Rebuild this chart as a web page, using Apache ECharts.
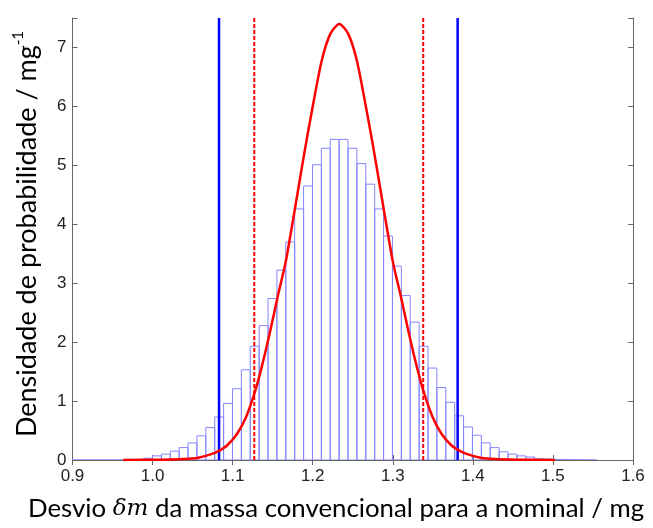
<!DOCTYPE html>
<html><head><meta charset="utf-8">
<script src="https://cdn.jsdelivr.net/npm/echarts@6/dist/echarts.min.js"></script>
<style>html,body{margin:0;padding:0;background:#fff}#c{width:653px;height:528px}</style>
</head><body><div id="c"></div>
<script>
// Histogram bins (start, width) and densities
const binStart = 0.9;
const binWidth = 0.0111;
const histValues = [0,0,0,0,0,0,0,0,
  0.03,0.07,0.10,0.15,0.21,0.29,0.41,0.55,0.73,0.96,
  1.21,1.53,1.93,2.28,2.74,3.22,3.70,4.26,4.65,5.01,
  5.29,5.44,5.44,5.29,5.03,4.68,4.26,3.80,3.29,2.79,
  2.34,1.93,1.56,1.23,0.98,0.75,0.56,0.42,0.29,0.21,
  0.14,0.10,0.07,0.05,
  0.02,0.015,0.01,0.006,0.004,0.003,0.002];

// Red density curve
const curveX = [0.9634,1.0121,1.0334,1.0459,1.0571,1.0733,1.0833,1.0933,1.1058,1.1171,1.1270,1.1358,1.1458,1.1564,1.1658,1.1720,1.1770,1.1832,1.1907,1.2007,1.2113,1.2220,
  1.2332,
  1.2444,1.2551,1.2657,1.2757,1.2832,1.2894,1.2944,1.3006,1.3100,1.3206,1.3306,1.3394,1.3494,1.3606,1.3731,1.3831,1.3931,1.4093,1.4205,1.4330,1.4543,1.5026];
const curveY = [0.002,0.005,0.012,0.022,0.038,0.10,0.16,0.25,0.45,0.74,1.12,1.55,2.12,2.78,3.33,3.8,4.2,4.7,5.3,6.05,6.78,7.23,
  7.40,
  7.23,6.78,6.05,5.3,4.7,4.2,3.8,3.33,2.78,2.12,1.55,1.12,0.74,0.45,0.25,0.16,0.10,0.038,0.022,0.012,0.005,0.002];

// Interval limits
const blueLines = [1.083, 1.381];
const redLines = [1.127, 1.338];

const xTicks = {min: 0.9, max: 1.6, interval: 0.1};
const yTicks = {min: 0, max: 7.5, interval: 1};

const chart = echarts.init(document.getElementById('c'), null, {renderer: 'canvas'});

const axisColor = '#666';
const labelFont = {fontFamily: 'Liberation Sans', fontSize: 17, color: '#222'};

const histData = histValues.map((v, i) => [binStart + i * binWidth, binStart + (i + 1) * binWidth, v]);

function vline(x, color, width, dash) {
  return {
    type: 'line', data: [[x, yTicks.min], [x, yTicks.max]], symbol: 'none', silent: true,
    lineStyle: {color: color, width: width, type: dash ? [4, 2] : 'solid'}, z: 4
  };
}

const option = {
  animation: false,
  backgroundColor: '#fff',
  grid: {left: 72.5, right: 20, top: 18, bottom: 68, containLabel: false},
  xAxis: [
    {type: 'value', min: xTicks.min, max: xTicks.max, interval: xTicks.interval, position: 'bottom',
     axisLine: {show: true, lineStyle: {color: axisColor, width: 1}},
     axisTick: {show: true, inside: true, length: 5, lineStyle: {color: axisColor}},
     axisLabel: Object.assign({margin: 8, formatter: v => v.toFixed(1)}, labelFont),
     splitLine: {show: false}},
    {type: 'value', min: xTicks.min, max: xTicks.max, interval: xTicks.interval, position: 'top',
     axisLine: {show: true, lineStyle: {color: axisColor, width: 1}},
     axisTick: {show: true, inside: true, length: 5, lineStyle: {color: axisColor}},
     axisLabel: {show: false}, splitLine: {show: false}}
  ],
  yAxis: [
    {type: 'value', min: yTicks.min, max: yTicks.max, interval: yTicks.interval, position: 'left',
     axisLine: {show: true, lineStyle: {color: axisColor, width: 1}},
     axisTick: {show: true, inside: true, length: 5, lineStyle: {color: axisColor}},
     axisLabel: Object.assign({margin: 6, formatter: v => (Number.isInteger(v) ? String(v) : '')}, labelFont),
     splitLine: {show: false}},
    {type: 'value', min: yTicks.min, max: yTicks.max, interval: yTicks.interval, position: 'right',
     axisLine: {show: true, lineStyle: {color: axisColor, width: 1}},
     axisTick: {show: true, inside: true, length: 5, lineStyle: {color: axisColor}},
     axisLabel: {show: false}, splitLine: {show: false}}
  ],
  series: [
    {
      type: 'custom', clip: true, z: 2,
      data: histData,
      encode: {x: [0, 1], y: 2},
      renderItem: function (params, api) {
        const p0 = api.coord([api.value(0), 0]);
        const p1 = api.coord([api.value(1), api.value(2)]);
        return {
          type: 'rect',
          shape: {x: p0[0], y: p1[1], width: p1[0] - p0[0], height: p0[1] - p1[1]},
          style: {fill: 'none', stroke: '#8585ff', lineWidth: 1}
        };
      }
    },
    vline(blueLines[0], '#0000ff', 2.5, false),
    vline(blueLines[1], '#0000ff', 2.5, false),
    vline(redLines[0], '#ff0000', 2, true),
    vline(redLines[1], '#ff0000', 2, true),
    {
      type: 'line', data: curveX.map((x, i) => [x, curveY[i]]), symbol: 'none', smooth: 0.25,
      lineStyle: {color: '#ff0000', width: 2.5}, z: 5, silent: true
    }
  ],
  graphic: [
    {type: 'text', x: 336, y: 509, z: 10,
     style: {
       text: '{n|Desvio }{m|δm}{n| da massa convencional para a nominal / mg}',
       align: 'center', verticalAlign: 'middle',
       rich: {
         n: {fontFamily: 'Lato', fontSize: 25.8, fill: '#000'},
         m: {fontFamily: 'DejaVu Serif', fontStyle: 'italic', fontSize: 23, fill: '#000'}
       }
     }},
    {type: 'text', x: 27, y: 234, rotation: Math.PI / 2, z: 10,
     style: {
       text: '{n|Densidade de probabilidade / mg}{s|-1}',
       align: 'center', verticalAlign: 'middle',
       rich: {
         n: {fontFamily: 'Lato', fontSize: 27, fill: '#000', lineHeight: 32},
         s: {fontFamily: 'Lato', fontSize: 15, fill: '#000', verticalAlign: 'top', lineHeight: 32, padding: [0, 0, 11, 0]}
       }
     }}
  ]
};
chart.setOption(option);
</script>
</body></html>
